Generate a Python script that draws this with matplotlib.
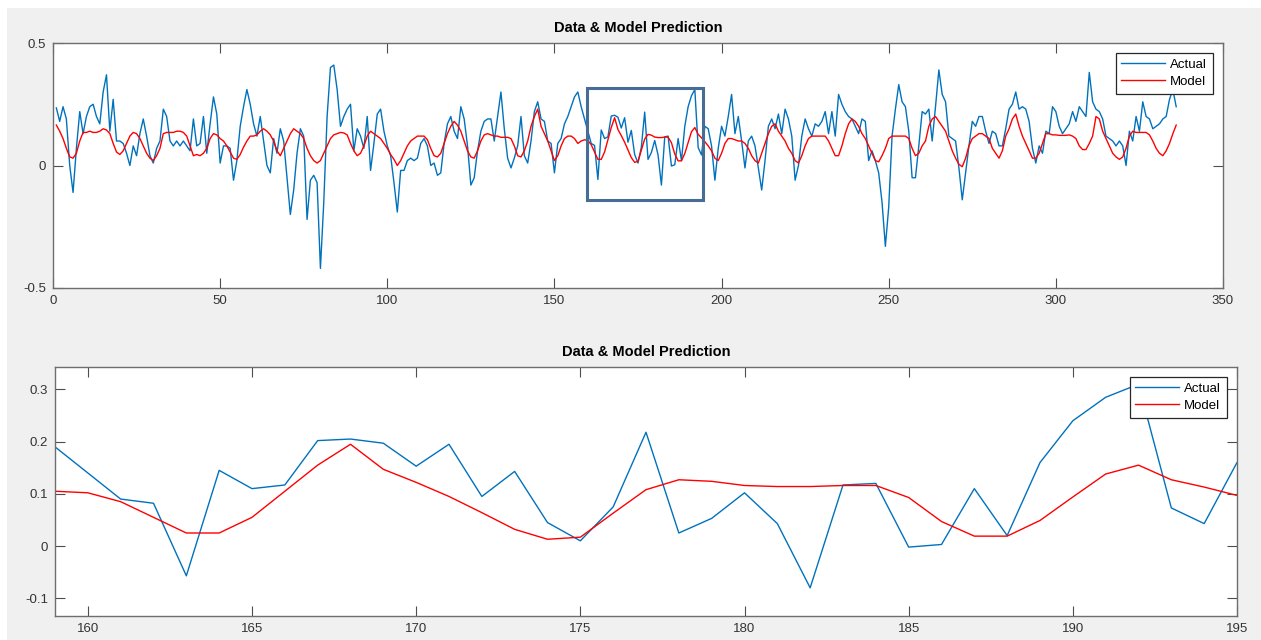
import matplotlib
matplotlib.use("Agg")
import matplotlib.pyplot as plt
import numpy as np
from matplotlib.patches import Rectangle
from matplotlib.ticker import FuncFormatter

plt.rcParams['font.family'] = ['Liberation Sans', 'DejaVu Sans']
plt.rcParams['axes.unicode_minus'] = False

# measured series (sample index 1..336)
actual = [
    0.235, 0.18, 0.24, 0.19, 0.0, -0.11, 0.07, 0.22, 0.13, 0.2,
    0.24, 0.25, 0.2, 0.17, 0.3, 0.37, 0.14, 0.27, 0.1, 0.1,
    0.09, 0.05, 0.0, 0.08, 0.04, 0.13, 0.19, 0.12, 0.04, 0.01,
    0.07, 0.1, 0.23, 0.2, 0.1, 0.08, 0.1, 0.08, 0.1, 0.08,
    0.06, 0.19, 0.08, 0.09, 0.2, 0.05, 0.17, 0.28, 0.21, 0.01,
    0.08, 0.08, 0.07, -0.06, 0.02, 0.16, 0.24, 0.31, 0.25, 0.17,
    0.12, 0.2, 0.1, 0.0, -0.03, 0.11, 0.05, 0.15, 0.1, -0.05,
    -0.2, -0.1, 0.05, 0.15, 0.12, -0.22, -0.06, -0.04, -0.07, -0.42,
    -0.15, 0.2, 0.4, 0.41, 0.31, 0.16, 0.2, 0.23, 0.25, 0.06,
    0.15, 0.12, 0.07, 0.2, -0.02, 0.09, 0.21, 0.23, 0.14, 0.08,
    0.04, -0.07, -0.19, -0.02, -0.02, 0.02, 0.03, 0.02, 0.03, 0.09,
    0.11, 0.08, 0.0, 0.01, -0.04, -0.03, 0.09, 0.17, 0.2, 0.14,
    0.11, 0.24, 0.19, 0.08, -0.08, -0.05, 0.06, 0.14, 0.18, 0.19,
    0.19, 0.1, 0.2, 0.3, 0.15, 0.03, -0.01, 0.03, 0.08, 0.2,
    0.04, 0.01, 0.1, 0.22, 0.26, 0.19, 0.18, 0.1, 0.09, -0.03,
    0.09, 0.11, 0.17, 0.2, 0.24, 0.28, 0.3, 0.24, 0.19, 0.14,
    0.09, 0.082, -0.057, 0.145, 0.11, 0.117, 0.202, 0.205, 0.197, 0.153,
    0.195, 0.095, 0.143, 0.045, 0.01, 0.075, 0.218, 0.025, 0.053, 0.102,
    0.043, -0.08, 0.117, 0.12, -0.002, 0.003, 0.11, 0.02, 0.16, 0.24,
    0.285, 0.31, 0.073, 0.043, 0.16, 0.15, 0.08, -0.06, 0.07, 0.16,
    0.12, 0.2, 0.29, 0.13, 0.2, 0.1, -0.01, 0.1, 0.12, 0.08,
    -0.01, -0.1, 0.02, 0.16, 0.19, 0.15, 0.21, 0.13, 0.23, 0.19,
    0.12, -0.06, 0.0, 0.12, 0.19, 0.15, 0.12, 0.17, 0.16, 0.18,
    0.22, 0.13, 0.22, 0.12, 0.29, 0.25, 0.22, 0.2, 0.19, 0.16,
    0.13, 0.19, 0.18, 0.02, 0.06, 0.02, -0.03, -0.15, -0.33, -0.17,
    0.12, 0.23, 0.33, 0.26, 0.24, 0.14, -0.05, -0.05, 0.08, 0.22,
    0.21, 0.23, 0.1, 0.24, 0.39, 0.29, 0.26, 0.12, 0.11, 0.1,
    -0.01, -0.14, -0.03, 0.08, 0.18, 0.16, 0.2, 0.2, 0.14, 0.09,
    0.14, 0.13, 0.08, 0.08, 0.15, 0.23, 0.25, 0.3, 0.23, 0.24,
    0.23, 0.18, 0.07, 0.01, 0.08, 0.05, 0.14, 0.13, 0.24, 0.22,
    0.16, 0.13, 0.15, 0.17, 0.22, 0.18, 0.24, 0.22, 0.2, 0.38,
    0.26, 0.23, 0.22, 0.19, 0.12, 0.11, 0.1, 0.08, 0.1, 0.08,
    0.0, 0.14, 0.1, 0.2, 0.14, 0.26, 0.2, 0.19, 0.15, 0.16,
    0.17, 0.19, 0.2, 0.27, 0.31, 0.24,
]

model = [
    0.165, 0.14, 0.11, 0.07, 0.035, 0.03, 0.05, 0.1, 0.135, 0.135,
    0.14, 0.135, 0.135, 0.14, 0.15, 0.145, 0.13, 0.09, 0.055, 0.045,
    0.06, 0.09, 0.12, 0.135, 0.13, 0.11, 0.08, 0.05, 0.03, 0.02,
    0.04, 0.07, 0.13, 0.135, 0.135, 0.135, 0.14, 0.14, 0.135, 0.12,
    0.08, 0.04, 0.045, 0.04, 0.05, 0.07, 0.11, 0.13, 0.125, 0.11,
    0.1, 0.08, 0.055, 0.03, 0.025, 0.045, 0.075, 0.1, 0.12, 0.12,
    0.125, 0.14, 0.15, 0.14, 0.125, 0.1, 0.06, 0.04, 0.07, 0.1,
    0.13, 0.15, 0.14, 0.13, 0.11, 0.07, 0.04, 0.02, 0.01, 0.02,
    0.05, 0.08, 0.11, 0.125, 0.13, 0.135, 0.133, 0.125, 0.09, 0.06,
    0.04, 0.05, 0.08, 0.12, 0.14, 0.13, 0.12, 0.11, 0.09, 0.07,
    0.045, 0.025, 0.0, 0.02, 0.05, 0.08, 0.1, 0.11, 0.12, 0.12,
    0.12, 0.105, 0.07, 0.04, 0.035, 0.05, 0.09, 0.13, 0.16, 0.18,
    0.165, 0.14, 0.1, 0.06, 0.035, 0.03, 0.06, 0.1, 0.125, 0.13,
    0.125, 0.12, 0.12, 0.115, 0.115, 0.115, 0.11, 0.08, 0.04, 0.035,
    0.06, 0.1, 0.16, 0.2, 0.23, 0.16, 0.13, 0.1, 0.06, 0.02,
    0.04, 0.08, 0.11, 0.12, 0.12, 0.11, 0.09, 0.1, 0.105, 0.102,
    0.085, 0.055, 0.025, 0.025, 0.055, 0.105, 0.155, 0.195, 0.147, 0.122,
    0.095, 0.064, 0.032, 0.013, 0.017, 0.063, 0.108, 0.127, 0.124, 0.116,
    0.114, 0.114, 0.116, 0.116, 0.093, 0.047, 0.019, 0.019, 0.049, 0.094,
    0.138, 0.155, 0.127, 0.113, 0.097, 0.08, 0.06, 0.03, 0.02, 0.05,
    0.09, 0.11, 0.11, 0.105, 0.1, 0.1, 0.09, 0.07, 0.04, 0.02,
    0.01, 0.05, 0.09, 0.13, 0.16, 0.17, 0.14, 0.12, 0.1, 0.07,
    0.05, 0.02, 0.01, 0.04, 0.08, 0.11, 0.12, 0.12, 0.12, 0.12,
    0.12, 0.1, 0.07, 0.04, 0.04, 0.08, 0.13, 0.17, 0.19, 0.18,
    0.16, 0.13, 0.11, 0.08, 0.05, 0.02, 0.015, 0.04, 0.07, 0.11,
    0.12, 0.12, 0.12, 0.12, 0.12, 0.11, 0.07, 0.04, 0.05, 0.08,
    0.1, 0.16, 0.19, 0.2, 0.18, 0.16, 0.14, 0.1, 0.06, 0.03,
    0.005, -0.005, 0.03, 0.08, 0.11, 0.12, 0.13, 0.13, 0.12, 0.11,
    0.07, 0.05, 0.03, 0.06, 0.12, 0.15, 0.19, 0.21, 0.16, 0.12,
    0.09, 0.06, 0.03, 0.03, 0.05, 0.09, 0.13, 0.13, 0.125, 0.125,
    0.123, 0.123, 0.123, 0.125, 0.12, 0.11, 0.08, 0.065, 0.065, 0.09,
    0.12, 0.2, 0.19, 0.14, 0.11, 0.08, 0.05, 0.035, 0.025, 0.035,
    0.07, 0.12, 0.14, 0.135, 0.135, 0.135, 0.135, 0.125, 0.1, 0.07,
    0.05, 0.04, 0.06, 0.09, 0.13, 0.165,
]

t = np.arange(1, len(actual) + 1)

top_xticks = [0, 50, 100, 150, 200, 250, 300, 350]
top_yticks = [-0.5, 0, 0.5]
zoom_xticks = [160, 165, 170, 175, 180, 185, 190, 195]
zoom_yticks = [-0.1, 0, 0.1, 0.2, 0.3]

fig = plt.figure(figsize=(12.61, 6.4), dpi=100, facecolor='white')
fig.patches.append(Rectangle((7 / 1261, 0), 1, 1 - 8 / 640, transform=fig.transFigure,
                             facecolor='#f0f0f0', edgecolor='none', zorder=-10))

ax1 = fig.add_axes([53 / 1261, 1 - 288 / 640, 1170 / 1261, 245 / 640])
ax2 = fig.add_axes([55 / 1261, 1 - 616 / 640, 1182 / 1261, 249 / 640])

fmt = FuncFormatter(lambda v, p: '%g' % round(v, 3))

for ax in (ax1, ax2):
    ax.plot(t, actual, color='#0072BD', lw=1.0, label='Actual')
    ax.plot(t, model, color='#ff0000', lw=1.0, label='Model')
    ax.set_facecolor('white')
    for s in ax.spines.values():
        s.set_color('#6e6e6e')
        s.set_linewidth(1.0)
    ax.tick_params(direction='in', top=True, right=True, length=7, width=0.8,
                   color='#4d4d4d', labelcolor='#333333', labelsize=9.5, pad=5)
    ax.yaxis.set_major_formatter(fmt)
    ax.set_title('Data & Model Prediction', fontsize=10.5, fontweight='bold', pad=8)
    leg = ax.legend(loc='upper right', fontsize=9.5, frameon=True, fancybox=False,
                    framealpha=1, edgecolor='#262626', borderaxespad=0.75,
                    handlelength=3.3, handletextpad=0.4, borderpad=0.45, labelspacing=0.35)
    leg.get_frame().set_linewidth(0.9)

ax1.set_xlim(0, 350)
ax1.set_ylim(-0.5, 0.5)
ax1.set_xticks(top_xticks)
ax1.set_yticks(top_yticks)
ax1.add_patch(Rectangle((159.8, -0.139), 34.6, 0.454, fill=False,
                        edgecolor='#476d96', lw=2.2, zorder=5))

ax2.set_xlim(159, 195)
ax2.set_ylim(-0.134, 0.343)
ax2.set_xticks(zoom_xticks)
ax2.set_yticks(zoom_yticks)

fig.savefig('out.png', dpi=100, facecolor=fig.get_facecolor())
